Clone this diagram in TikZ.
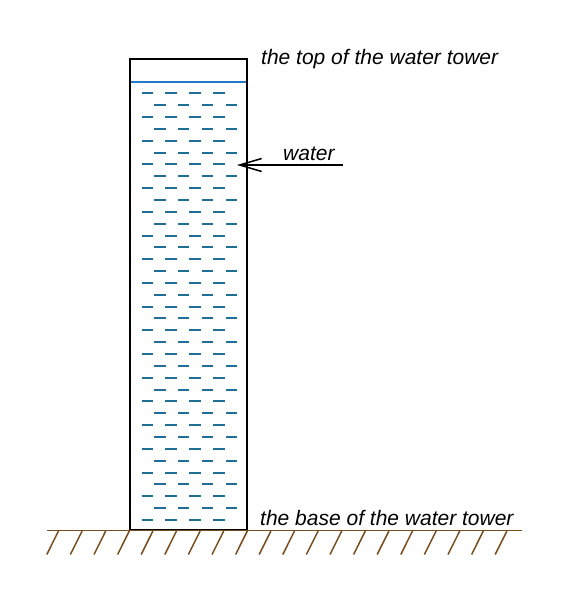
\documentclass[tikz,border=0pt]{standalone}
\usepackage{fontspec}
\setmainfont{Liberation Sans}
\usepackage{tikz}
\usetikzlibrary{positioning,arrows.meta}

\definecolor{waterline}{RGB}{40,120,200}
\definecolor{waterdash}{RGB}{30,110,150}
\definecolor{ground}{RGB}{120,78,30}

\tikzset{
  tower/.style={draw=black, line width=1.8pt},
  surface/.style={draw=waterline, line width=2pt},
  waterdash/.style={draw=waterdash, line width=2pt},
  groundline/.style={draw=ground, line width=1.8pt},
  hatchline/.style={draw=ground, line width=1.5pt},
  caption/.style={font=\fontsize{21}{24}\selectfont\itshape, inner sep=0pt, anchor=base west},
}

\begin{document}
\begin{tikzpicture}[x=1pt, y=-1pt]
\useasboundingbox (0,0) rectangle (567,602);

% tower and water
\draw[tower] (130,59) rectangle (247,530);
\draw[surface] (131,82) -- (246,82);
\foreach \i in {0,...,36} {
  \pgfmathsetmacro\yy{93.3+\i*11.85}
  \pgfmathsetmacro\xo{141.5+mod(\i,2)*12.5}
  \foreach \j in {0,...,3}
    \draw[waterdash] ({\xo+\j*23.9},\yy) -- ++(11.5,0);
}

% ground
\draw[groundline] (47,530.5) -- (522,530.5);
\foreach \k in {0,...,19}
  \draw[hatchline] ({58.5+\k*23.6},531) -- ++(-11.7,23.5);

% labels
\node[caption] (toplabel) at (261,65) {the top of the water tower};
\node[caption] (baselabel) at (260,525) {the base of the water tower};
\coordinate (arrowstart) at (343,165);
\coordinate (arrowtip) at (237,165);
\node[caption] (waterlabel) at (283,160) {water};
\draw[line width=1.5pt, -{Straight Barb[length=22pt, width=13pt]}] (arrowstart) -- (arrowtip);
\end{tikzpicture}
\end{document}
